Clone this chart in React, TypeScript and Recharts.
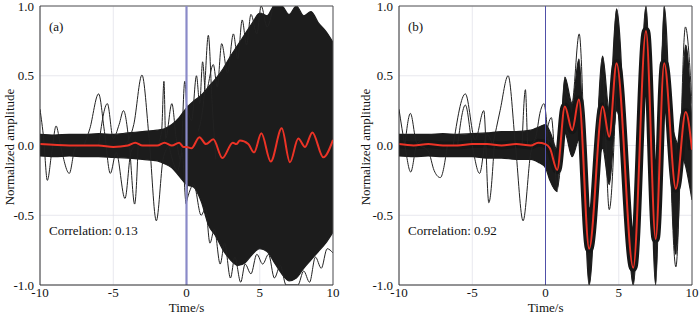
import React from 'react';
import { ComposedChart, Area, Line, XAxis, YAxis, CartesianGrid, ReferenceLine } from 'recharts';

const xTicks = [-10, -5, 0, 5, 10];
const yTicks = [-1, -0.5, 0, 0.5, 1];

// (a) envelope of the raw traces
const aBandT = [-10, -9, -8, -7, -6, -5, -4, -3, -2, -1.5, -1, -0.5, 0, 0.5, 1, 1.5, 2, 2.5, 3, 3.5, 4, 4.5, 5, 5.5, 6, 6.5, 7, 7.5, 8, 8.5, 9, 9.5, 10];
const aBandHi = [0.08, 0.075, 0.08, 0.08, 0.085, 0.08, 0.09, 0.1, 0.11, 0.12, 0.15, 0.2, 0.27, 0.32, 0.36, 0.42, 0.48, 0.55, 0.64, 0.72, 0.8, 0.88, 0.95, 0.93, 1.0, 1.0, 0.94, 1.0, 0.93, 0.96, 0.88, 0.82, 0.74];
const aBandLo = [-0.075, -0.08, -0.075, -0.08, -0.08, -0.085, -0.09, -0.1, -0.11, -0.13, -0.16, -0.22, -0.28, -0.3, -0.4, -0.57, -0.65, -0.75, -0.82, -0.86, -0.84, -0.78, -0.74, -0.76, -0.84, -0.92, -0.97, -0.95, -0.88, -0.82, -0.76, -0.7, -0.62];

// ragged outer edges of the (a) bundle
const aEdgeTop = [[0.0, 0.3], [0.35, 0.18], [0.68, 0.5], [0.9, 0.3], [1.1, 0.6], [1.3, 0.38], [1.83, 0.58], [2.1, 0.42], [2.4, 0.73], [2.8, 0.52], [3.2, 0.8], [3.5, 0.62], [3.8, 0.9], [4.1, 0.72], [4.4, 0.94], [4.8, 0.8], [5.1, 1.0], [5.5, 0.85], [5.9, 1.0]];
const aEdgeBot = [[0.0, -0.4], [0.5, -0.28], [1.0, -0.5], [1.3, -0.45], [1.6, -0.7], [1.9, -0.6], [2.3, -0.85], [2.6, -0.7], [3.0, -0.95], [3.3, -0.8], [3.7, -0.98], [4.0, -0.85], [4.4, -0.92], [4.8, -0.78], [5.2, -0.85], [5.6, -0.78], [6.0, -0.95], [6.4, -0.86], [6.8, -1.0], [7.6, -1.0], [8.0, -0.9], [8.4, -0.98], [8.8, -0.8], [9.2, -0.88], [9.6, -0.74], [10, -0.77]];

// (a) stacked mean
const aMeanT = [-10, -8, -6, -5, -4, -3.5, -3, -2, -1.5, -1, -0.5, -0.2, 0, 0.34, 0.88, 1.33, 1.83, 2.45, 3.16, 3.4, 3.65, 4.22, 4.61, 5.11, 5.75, 6.5, 7.06, 7.63, 8.09, 8.59, 9.34, 10];
const aMeanV = [0.01, 0.0, 0.0, -0.01, 0.0, 0.02, 0.0, 0.0, 0.02, 0.0, 0.02, -0.01, -0.01, -0.02, 0.06, 0.01, 0.044, -0.09, 0.02, 0.01, 0.035, 0.01, -0.05, 0.087, -0.115, 0.123, -0.12, 0.05, -0.01, 0.094, -0.085, 0.04];

// (a) stray traces [t, amplitude]
const aStray = [
  [[-10, 0.26], [-9.75, 0.05], [-9.5, -0.25], [-9.2, -0.05], [-8.9, 0.14], [-8.6, 0.0], [-8.0, -0.2], [-7.6, -0.02], [-7.2, 0.0]],
  [[-7.0, 0.0], [-6.6, 0.12], [-6.0, 0.37], [-5.6, 0.1], [-5.2, -0.2], [-4.8, -0.05], [-4.2, -0.38], [-3.8, -0.05], [-3.5, 0.0]],
  [[-4.2, 0.0], [-3.6, 0.15], [-3.04, 0.505], [-2.55, 0.05], [-2.06, -0.54], [-1.6, -0.1], [-1.2, 0.0]],
  [[-6.0, 0.0], [-5.4, 0.3], [-5.0, 0.05], [-4.6, 0.15], [-4.3, 0.25], [-3.9, 0.0], [-3.54, -0.42], [-3.3, 0.0]],
  [[-2.0, 0.0], [-1.7, 0.1], [-1.54, 0.46], [-1.42, 0.05], [-1.0, 0.3], [-0.7, 0.05], [-0.4, -0.1], [-0.12, 0.46], [0.1, 0.0]],
  [[-1.2, 0.0], [-0.6, -0.18], [-0.3, -0.05], [-0.02, -0.42], [0.15, 0.0]],
  [[0.8, 0.1], [1.2, 0.35], [1.49, 0.79], [1.75, 0.3], [2.0, -0.1]],
  aEdgeTop,
  aEdgeBot,
];

// (b) aligned traces: mean and the two edges of the bundle
const bT = [-10, -9, -8, -7, -6, -5, -4, -3, -2, -1, -0.5, 0, 0.3, 0.8, 1.32, 1.82, 2.28, 2.98, 3.9, 4.35, 4.85, 5.99, 6.86, 7.52, 8.1, 8.9, 9.57, 10];
const bMean = [0.01, 0.0, 0.01, 0.0, 0.0, 0.01, 0.01, 0.0, 0.01, 0.0, 0.02, 0.01, -0.02, -0.175, 0.28, 0.11, 0.33, -0.74, 0.28, 0.063, 0.59, -0.877, 0.82, -0.67, 0.59, -0.31, 0.24, -0.03];
const bOuter = [-0.075, -0.08, -0.075, -0.08, -0.08, -0.08, -0.09, -0.09, -0.1, -0.1, -0.12, -0.16, -0.25, -0.33, 0.49, 0.3, 0.62, -1.0, 0.64, 0.25, 0.98, -1.0, 1.0, -1.0, 1.0, -0.78, 0.72, 0.15];
const bInner = [0.08, 0.08, 0.08, 0.085, 0.08, 0.085, 0.09, 0.1, 0.1, 0.11, 0.13, 0.15, 0.1, -0.03, 0.09, -0.08, 0.04, -0.45, -0.02, -0.28, 0.25, -0.6, 0.5, -0.45, 0.28, 0.04, -0.15, -0.39];

const bStray = [
  [[-10, 0.26], [-9.6, 0.0], [-9.2, -0.19], [-8.8, 0.0], [-8.4, 0.04]],
  [[-9.6, 0.0], [-9.22, 0.23], [-8.8, 0.02], [-8.0, -0.04], [-7.6, -0.18], [-7.18, -0.23], [-6.7, 0.0]],
  [[-6.3, 0.0], [-5.47, 0.37], [-4.8, 0.04], [-4.21, 0.25], [-3.87, -0.41], [-3.5, 0.0]],
  [[-3.6, 0.0], [-3.1, 0.25], [-2.55, 0.5], [-2.05, 0.0], [-1.53, -0.54], [-1.0, -0.05], [-0.6, 0.05]],
  [[-1.6, 0.0], [-1.37, 0.4], [-1.2, 0.0], [-0.7, 0.05], [-0.34, 0.25], [-0.11, 0.3], [0.2, 0.0]],
  [[-6.0, 0.0], [-5.47, 0.29], [-5.0, 0.0], [-4.5, -0.2], [-4.0, 0.08], [-3.6, 0.0]],
  [[0.0, 0.05], [0.4, 0.2], [0.8, -0.3], [1.3, 0.35]],
  [[1.3, 0.4], [1.8, 0.3], [2.3, 0.8], [2.95, -0.7], [3.5, -0.1]],
  [[3.4, -0.1], [3.9, 0.5], [4.35, -0.46], [4.85, 0.5]],
  [[7.5, -0.8], [8.1, 0.8], [8.9, -0.87], [9.55, 0.85], [10, 0.3]],
];

const pts = (arr: number[][]) => arr.map(([t, v]) => ({ t, v }));
const serif = 'Liberation Serif, Tinos, DejaVu Serif, Times New Roman, serif';

const aBand = aBandT.map((t, i) => ({ t, band: [aBandLo[i], aBandHi[i]] }));
const aMean = aMeanT.map((t, i) => ({ t, v: aMeanV[i] }));
const bBand = bT.map((t, i) => ({ t, band: [bOuter[i], bInner[i]] }));
const bCore = bT.map((t, i) => ({ t, v: bMean[i] }));

type PanelProps = {
  left: number;
  mLeft: number;
  mRight: number;
  band: any[];
  core?: any[];
  mean: any[];
  stray: number[][][];
  tag: string;
  corr: string;
  zeroColor: string;
  zeroWidth: number;
  labelX: number;
  timeX: number;
  textX: number;
};

const Panel = (p: PanelProps) => {
  const txt: React.CSSProperties = { position: 'absolute', fontFamily: serif, fontSize: 13, color: '#111', lineHeight: 1, whiteSpace: 'nowrap' };
  return (
    <div style={{ position: 'absolute', left: p.left, top: 0, width: 350, height: 315 }}>
      <ComposedChart width={350} height={315} margin={{ top: 6, right: p.mRight, bottom: 0, left: p.mLeft }}>
        <CartesianGrid stroke="#e2e2ea" strokeWidth={0.8} />
        <XAxis type="number" dataKey="t" domain={[-10, 10]} ticks={xTicks} interval={0} allowDataOverflow height={30}
          tickSize={1} tickLine={false} axisLine={{ stroke: '#333' }} tick={{ fill: '#111', fontSize: 13, fontFamily: serif }} />
        <YAxis type="number" domain={[-1, 1]} ticks={yTicks} interval={0} allowDataOverflow width={30}
          tickSize={4} tickLine={false} axisLine={{ stroke: '#333' }} tickFormatter={(v: number) => v.toFixed(1)}
          tick={{ fill: '#111', fontSize: 13, fontFamily: serif }} />
        <Area data={p.band} dataKey="band" type="monotone" stroke="#1c1c1c" strokeWidth={1.2} fill="#1c1c1c" fillOpacity={1}
          isAnimationActive={false} dot={false} activeDot={false} />
        {p.core && (
          <Line data={p.core} dataKey="v" type="monotone" stroke="#161616" strokeWidth={8} dot={false} activeDot={false} isAnimationActive={false} />
        )}
        {p.stray.map((s, i) => (
          <Line key={i} data={pts(s)} dataKey="v" type="monotone" stroke="#222" strokeWidth={1} dot={false} activeDot={false} isAnimationActive={false} />
        ))}
        <ReferenceLine y={1} stroke="#555" />
        <ReferenceLine x={10} stroke="#555" />
        <ReferenceLine x={0} stroke={p.zeroColor} strokeWidth={p.zeroWidth} />
        <Line data={p.mean} dataKey="v" type="monotone" stroke="#ec3326" strokeWidth={2} dot={false} activeDot={false} isAnimationActive={false} />
      </ComposedChart>
      <div style={{ ...txt, left: p.textX, top: 26, transform: 'translateY(-50%)' }}>{p.tag}</div>
      <div style={{ ...txt, left: p.textX, top: 230, transform: 'translateY(-50%)' }}>{p.corr}</div>
      <div style={{ ...txt, left: p.labelX, top: 147, transform: 'translate(-50%, -50%) rotate(-90deg)' }}>Normalized amplitude</div>
      <div style={{ ...txt, left: p.timeX, top: 307, transform: 'translate(-50%, -50%)' }}>Time/s</div>
    </div>
  );
};

export default function App() {
  return (
    <div style={{ position: 'absolute', left: 0, top: 0, width: 700, height: 315, background: '#fff' }}>
      <Panel left={0} mLeft={10} mRight={17} band={aBand} mean={aMean} stray={aStray} tag="(a)" corr="Correlation: 0.13"
        zeroColor="#8a8ac8" zeroWidth={2.2} labelX={9} timeX={186.5} textX={49} />
      <Panel left={350} mLeft={19} mRight={8} band={bBand} core={bCore} mean={bCore} stray={bStray} tag="(b)" corr="Correlation: 0.92"
        zeroColor="#5050a8" zeroWidth={1} labelX={15} timeX={195.7} textX={58} />
    </div>
  );
}
